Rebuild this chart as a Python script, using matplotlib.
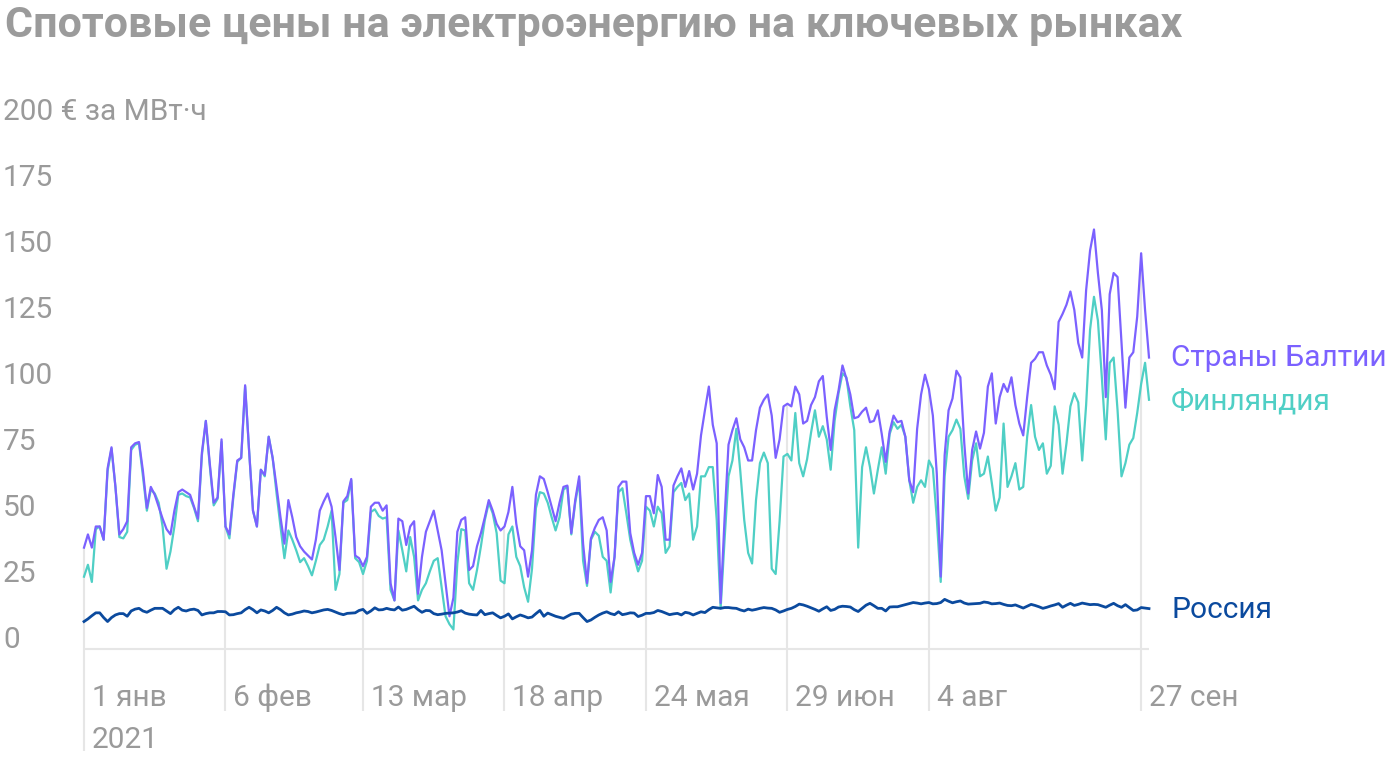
import numpy as np
import pandas as pd
import matplotlib
matplotlib.use("Agg")
import matplotlib.pyplot as plt
import matplotlib.transforms as mtransforms

plt.rcParams['font.family'] = ['Roboto', 'DejaVu Sans']

# Daily spot prices, EUR/MWh, starting 1 Jan 2021
baltic = [35, 40, 35, 43, 43, 38, 65, 73, 58, 40, 42, 45, 73, 74.5, 75, 64, 50, 58, 55, 50.5,
          46, 42, 40, 49, 56, 57, 56, 55, 50.5, 46, 71, 83, 67, 52, 54, 76, 43, 40, 55, 68,
          69, 96.5, 72, 49, 43, 64.5, 62.5, 77, 69, 58, 46.5, 36.5, 53, 46.5, 39, 35.5, 33.5, 32, 30.5, 38,
          49, 52.5, 55.5, 50.5, 39, 26.5, 52.5, 54.5, 61, 32, 31, 28, 31.5, 50.5, 52, 52, 49, 51, 21.5, 15,
          46, 45, 36, 43, 45, 17.5, 31.5, 41, 45, 49, 41.5, 34, 21.5, 9, 16, 41, 45.5, 46.5, 26.5, 28,
          35.5, 40.5, 46.5, 53, 49, 44, 41.5, 43, 48.5, 58, 44, 35.5, 34, 24, 34, 55, 62, 61, 56, 50.5,
          45, 52, 58, 58.5, 40.5, 53, 62, 36.5, 21.5, 38.5, 42.5, 45.5, 46.5, 41.5, 22, 31.5, 58, 60, 60, 40.5,
          33, 28.5, 33, 54.5, 54.5, 48, 62.5, 58, 38, 38, 58.5, 62, 65, 58, 64, 57, 63, 77.5, 87, 96,
          81.5, 74.5, 14, 46, 74, 79.5, 84, 76, 73, 68, 68, 79.5, 88, 91, 93, 85, 69, 76, 88.5, 89.5,
          88.5, 96, 93, 82, 83, 89, 92, 98, 100, 84.5, 72, 87, 94.5, 104, 99, 93, 84, 84.5, 86.5, 88,
          82.5, 83, 87, 78, 67.5, 79, 85, 82.5, 83, 77, 60.5, 56, 80, 93, 100.5, 95, 85, 63, 24, 70,
          87, 91.5, 102, 99.5, 74.5, 55.5, 72, 79, 72.5, 78.5, 96, 101, 82, 92, 97, 94, 99.5, 89, 82, 77.5,
          92, 105, 106.5, 109, 109, 104, 100.5, 95, 120.5, 123.5, 127, 132, 125, 112.5, 107, 132.5, 147.5, 155.5, 139, 125,
          92, 131, 139, 137.5, 112.5, 88, 107, 109, 122.5, 146.5, 125, 107]

finland = [24, 28.5, 22, 42, 43, 38, 64, 72.5, 58, 39, 38.5, 41, 72, 74, 74.5, 62, 49, 57, 55.5, 52,
           43, 27, 33.5, 43, 55, 55.5, 54.5, 54, 50, 45, 70, 83, 66, 51, 53.5, 75, 43, 38.5, 54, 67.5,
           69, 96, 72, 49, 43, 64.5, 62, 77, 69, 55.5, 43, 31, 41.5, 38, 34, 29.5, 31, 28, 24.5, 30,
           36, 38, 43, 49, 19, 25, 52, 53, 60.5, 31, 29.5, 25, 30, 48.5, 49.5, 47, 46, 46.5, 19, 15,
           41.5, 34, 26, 39, 31.5, 15, 19, 21.5, 26, 30, 31, 20, 9, 6, 4, 29, 42, 41.5, 21.5, 19,
           26.5, 35.5, 45.5, 52, 48, 40.5, 22.5, 21.5, 40, 43, 31.5, 28, 20, 14.5, 27, 50, 56, 55.5, 52, 46.5,
           41.5, 46.5, 57, 58, 40, 52, 60.5, 30, 20.5, 38, 41, 39.5, 31.5, 30, 18, 31.5, 56, 57.5, 48, 38,
           31.5, 26, 30, 50.5, 49, 43, 50.5, 48, 33, 35.5, 56, 58, 59.5, 53, 55.5, 38, 43, 62, 62, 65.5,
           65.5, 45.5, 12, 38, 62, 68, 80, 64, 45.5, 33, 29, 53, 67, 71, 67, 27, 25, 45, 69.5, 70.5,
           68, 86, 67, 62, 68.5, 78.5, 87, 77, 81, 76, 64.5, 83, 93.5, 101, 99.5, 88.5, 79.5, 35, 65.5, 73,
           65.5, 55.5, 64.5, 73, 63, 78, 82.5, 80, 81.5, 77, 60.5, 52, 58, 60.5, 58, 68, 65, 46, 22, 62,
           77, 79.5, 83.5, 80, 62, 53.5, 68, 74.5, 62, 63, 69.5, 59.5, 49, 54, 82, 58, 62, 67, 57, 58,
           77, 89, 77, 72, 74.5, 63, 66, 88.5, 81.5, 63, 74.5, 88.5, 93.5, 90, 68, 89, 117.5, 130, 121, 99.5,
           76, 105, 107, 87, 62, 67, 74, 76.5, 86, 97, 105, 91]

russia = [7, 8, 9.2, 10.3, 10.3, 8.5, 7, 8.5, 9.5, 10, 10, 9, 11, 11.7, 12, 11, 10.5, 11.3, 12, 12,
          12, 11, 10, 11.5, 12.4, 11.3, 11, 11.5, 11.7, 11.2, 9.5, 10, 10.3, 10.3, 10.8, 10.8, 10.7, 9.5, 9.6, 10,
          10.3, 11.5, 12.4, 11.5, 10.3, 11.4, 11, 10.3, 11.2, 12.4, 11.5, 10.3, 9.5, 9.8, 10.3, 10.6, 11, 10.8, 10.3, 10.6,
          11, 11.4, 11.6, 11.2, 10.6, 10, 9.6, 10.1, 10.2, 10.3, 11.2, 11.6, 10.1, 11, 12.2, 11.4, 11.5, 12, 11.6, 11.4,
          12.5, 11.3, 11.6, 12.2, 12.8, 11.5, 10.5, 11.2, 11.1, 10, 9.6, 9.8, 10.1, 10.2, 10.3, 10.6, 11.1, 10.2, 9.8, 9.6,
          9.5, 11.2, 9.6, 10, 10.3, 9.3, 8.4, 9, 9.9, 8, 8.8, 9.5, 9, 8.4, 8.7, 10, 11.2, 9, 10.2, 9.6,
          9, 8.6, 8.2, 9, 9.8, 10.1, 10.1, 8.5, 7, 7.6, 8.6, 9.5, 10.2, 10.7, 10, 9.6, 10.7, 9.6, 9.9, 10.3,
          10.2, 8.9, 9.4, 10.1, 10.1, 10.4, 11.2, 10.8, 10.2, 9.6, 9.9, 10.1, 9.5, 10.5, 10.2, 9.5, 10.1, 10.7, 10.4, 11.5,
          12.4, 12.2, 12, 12.3, 12.3, 12.1, 12, 11.4, 11, 11.7, 11.3, 11.6, 12, 12.3, 12.1, 12, 11.4, 10.5, 11, 11.6,
          12, 12.7, 13.6, 13.3, 12.8, 12.2, 11.6, 10.9, 11.8, 12.6, 11.2, 11.6, 12.5, 12.8, 12.7, 12.5, 11.5, 10.8, 12, 13.2,
          13.9, 13, 12, 12, 11, 12.5, 12.6, 12.6, 13, 13.4, 13.8, 14.2, 14, 13.7, 14, 14.2, 13.7, 13.8, 14.2, 15.4,
          14.7, 14.1, 14.5, 14.8, 14, 13.6, 13.7, 13.8, 13.9, 14.4, 14.2, 13.7, 13.8, 14, 13.5, 13.1, 13, 13.3, 12.7, 12.1,
          12.8, 13.5, 13.1, 12.6, 12, 12.4, 12.9, 13.3, 13.8, 12.4, 13.2, 13.9, 13.1, 13.5, 14, 13.7, 13.4, 13.5, 13.4, 12.9,
          12.4, 13.2, 13.9, 13, 12.4, 13.4, 12.3, 11.2, 11.4, 12.3, 12.1, 11.9]

series_names = ['Страны Балтии', 'Финляндия', 'Россия']
series_colors = ['#7b61ff', '#4fcfc5', '#0b4a9e']

tick_dates = ['2021-01-01', '2021-02-06', '2021-03-13', '2021-04-18',
              '2021-05-24', '2021-06-29', '2021-08-04', '2021-09-27']
tick_labels = ['1 янв', '6 фев', '13 мар', '18 апр', '24 мая', '29 июн', '4 авг', '27 сен']

y_ticks = [0, 25, 50, 75, 100, 125, 150, 175, 200]
y_labels = ['0', '25', '50', '75', '100', '125', '150', '175', '200 € за МВт·ч']

dates = pd.date_range('2021-01-01', periods=len(baltic), freq='D')
df = pd.DataFrame({'baltic': baltic, 'finland': finland, 'russia': russia}, index=dates)

grey = '#9a9a9a'
fs = 21.5
fig = plt.figure(figsize=(14, 7.6), dpi=100)
ax = fig.add_axes([84 / 1400, 111 / 760, (1149 - 84) / 1400, (649 - 112) / 760])
ymin = -3.4
ax.set_xlim(dates[0], dates[-1])
ax.set_ylim(ymin, 200)
ax.axis('off')

# drop lines at the date ticks
off = mtransforms.ScaledTranslation(8 / 100, 0, fig.dpi_scale_trans)
for d, lab in zip(tick_dates, tick_labels):
    d = pd.Timestamp(d)
    top = df.loc[d, 'baltic']
    bottom = -42 if lab == '1 янв' else -27
    ax.vlines(d, bottom, top, color='#e6e6e6', lw=1.5, zorder=0, clip_on=False)
    ax.text(d, -22, lab, transform=ax.transData + off, ha='left', va='center',
            fontsize=fs, color=grey, clip_on=False)
ax.text(pd.Timestamp(tick_dates[0]), -38, '2021', transform=ax.transData + off,
        ha='left', va='center', fontsize=fs, color=grey, clip_on=False)

# baseline
ax.hlines(ymin, dates[0], dates[-1], color='#e6e6e6', lw=1.5, zorder=0, clip_on=False)

# y labels on the left edge
trans = mtransforms.blended_transform_factory(fig.transFigure, ax.transData)
for v, lab in zip(y_ticks, y_labels):
    ax.text(3 / 1400, v, lab, transform=trans, ha='left', va='center',
            fontsize=fs, color=grey, clip_on=False)

cols = ['baltic', 'finland', 'russia']
widths = [1.6, 1.6, 2.0]
for col, c, w in zip(cols, series_colors, widths):
    ax.plot(df.index, df[col], color=c, lw=w, clip_on=False, zorder=3 if col != 'finland' else 2)

label_y = [107, 90.5, 11.5]
off2 = mtransforms.ScaledTranslation(22 / 100, 0, fig.dpi_scale_trans)
for name, c, yv in zip(series_names, series_colors, label_y):
    ax.text(dates[-1], yv, name, transform=ax.transData + off2, ha='left', va='center',
            fontsize=fs, color=c, clip_on=False)

fig.text(5 / 1400, (760 - 37) / 760, 'Спотовые цены на электроэнергию на ключевых рынках',
         ha='left', va='baseline', fontsize=31, fontweight='bold', color='#9b9b9b')

fig.savefig('out.png', dpi=100)
